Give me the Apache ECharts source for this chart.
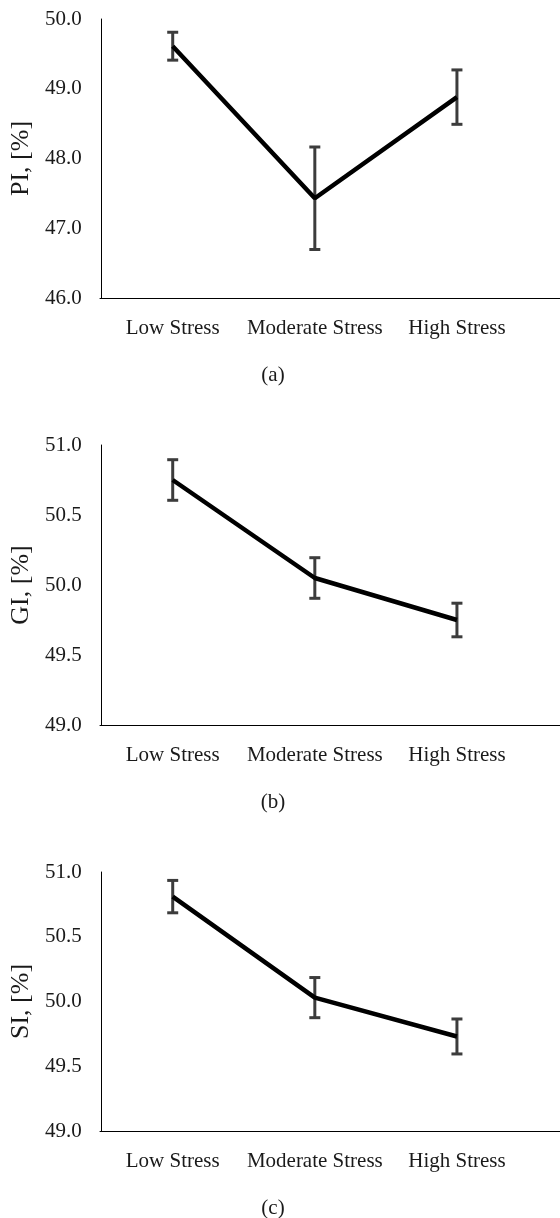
<!DOCTYPE html>
<html lang="en">
<head>
    <meta charset="UTF-8">
    <title>Stress indices</title>
    <style>
        body { margin: 0; background: #fff; }
        #main { width: 560px; height: 1218px; }
    </style>
</head>
<body>
<div id="main"></div>
<script src="https://cdn.jsdelivr.net/npm/echarts@6/dist/echarts.min.js"></script>
<script>

    var categories = ['Low Stress', 'Moderate Stress', 'High Stress'];

    var piMean = [49.61, 47.43, 48.88];
    var piErr = [0.20, 0.735, 0.39];

    var giMean = [50.75, 50.05, 49.75];
    var giErr = [0.145, 0.145, 0.12];

    var siMean = [50.81, 50.03, 49.73];
    var siErr = [0.125, 0.155, 0.135];

    var panels = [
        {name: 'PI, [%]', caption: '(a)', mean: piMean, err: piErr, min: 46, max: 50, interval: 1, top: 19, height: 279},
        {name: 'GI, [%]', caption: '(b)', mean: giMean, err: giErr, min: 49, max: 51, interval: 0.5, top: 445, height: 280},
        {name: 'SI, [%]', caption: '(c)', mean: siMean, err: siErr, min: 49, max: 51, interval: 0.5, top: 872, height: 259}
    ];

    var font = 'Liberation Serif';
    var textColor = '#1a1a1a';

    var errorBars = function (params, api) {
        var x = api.value(0);
        var lo = api.coord([x, api.value(1)]);
        var hi = api.coord([x, api.value(2)]);
        var cap = 5.5;
        var style = {stroke: '#3c3c3c', lineWidth: 3};
        return {
            type: 'group',
            children: [
                {type: 'line', shape: {x1: lo[0], y1: lo[1], x2: hi[0], y2: hi[1]}, style: style},
                {type: 'line', shape: {x1: lo[0] - cap, y1: lo[1], x2: lo[0] + cap, y2: lo[1]}, style: style},
                {type: 'line', shape: {x1: hi[0] - cap, y1: hi[1], x2: hi[0] + cap, y2: hi[1]}, style: style}
            ]
        };
    };

    var option = {
        animation: false,
        backgroundColor: '#fff',
        title: [],
        grid: [],
        xAxis: [],
        yAxis: [],
        series: []
    };

    panels.forEach(function (p, i) {
        var g = i * 2;
        // main plotting grid
        option.grid.push({left: 100, top: p.top, width: 428, height: p.height});
        // wider grid only for the long x axis line
        option.grid.push({left: 100, top: p.top, width: 460, height: p.height});

        option.xAxis.push({
            type: 'category',
            gridIndex: g,
            data: categories,
            boundaryGap: true,
            axisLine: {show: false},
            axisTick: {show: false},
            axisLabel: {fontFamily: font, fontSize: 21, color: textColor, margin: 20, interval: 0}
        });
        option.xAxis.push({
            type: 'value',
            gridIndex: g + 1,
            min: 0,
            max: 1,
            axisLine: {show: true, lineStyle: {color: '#000', width: 1}},
            axisTick: {show: false},
            axisLabel: {show: false},
            splitLine: {show: false}
        });

        option.yAxis.push({
            type: 'value',
            gridIndex: g,
            min: p.min,
            max: p.max,
            interval: p.interval,
            name: p.name,
            nameLocation: 'middle',
            nameRotate: 90,
            nameGap: 61,
            nameTextStyle: {fontFamily: font, fontSize: 26, color: textColor},
            axisLine: {show: true, lineStyle: {color: '#000', width: 1}},
            axisTick: {show: false},
            splitLine: {show: false},
            axisLabel: {
                fontFamily: font, fontSize: 21, color: textColor, margin: 20,
                formatter: function (v) { return v.toFixed(1); }
            }
        });
        option.yAxis.push({
            type: 'value',
            gridIndex: g + 1,
            show: false,
            min: 0,
            max: 1
        });

        option.title.push({
            text: p.caption,
            left: 268,
            textAlign: 'center',
            top: p.top + p.height + 62,
            textStyle: {fontFamily: font, fontSize: 21, fontWeight: 'normal', color: textColor}
        });

        option.series.push({
            type: 'custom',
            xAxisIndex: g,
            yAxisIndex: g,
            z: 1,
            renderItem: errorBars,
            data: p.mean.map(function (m, k) { return [k, m - p.err[k], m + p.err[k]]; })
        });
        option.series.push({
            type: 'line',
            xAxisIndex: g,
            yAxisIndex: g,
            z: 2,
            data: p.mean,
            showSymbol: false,
            lineStyle: {color: '#000', width: 4.5}
        });
    });

    var chart = echarts.init(document.getElementById('main'), null, {renderer: 'canvas'});
    chart.setOption(option);

</script>
</body>
</html>
